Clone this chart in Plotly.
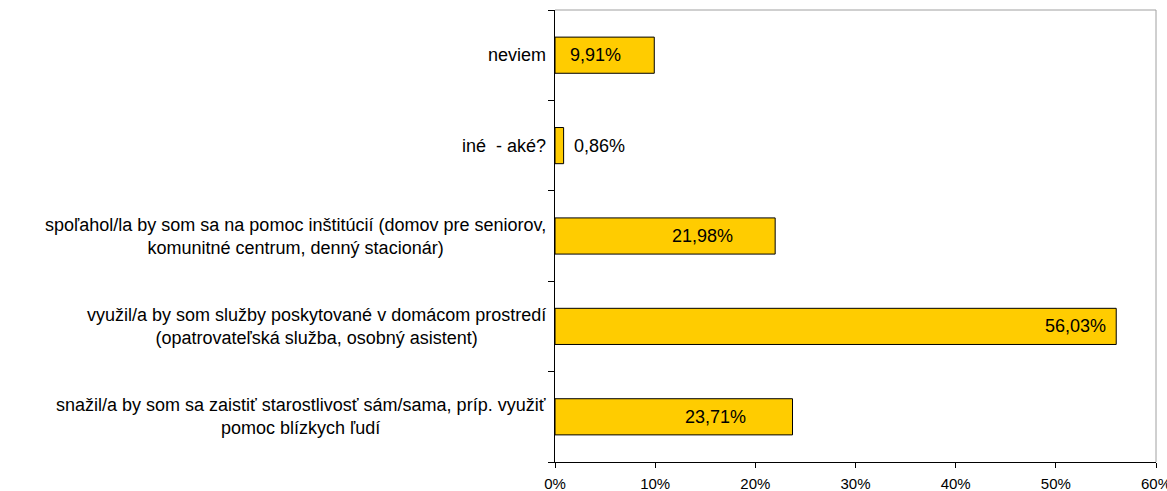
import plotly.graph_objects as go

categories = [
    "snažil/a by som sa zaistiť starostlivosť sám/sama, príp. využiť<br>pomoc blízkych ľudí",
    "využil/a by som služby poskytované v domácom prostredí<br>(opatrovateľská služba, osobný asistent)",
    "spoľahol/la by som sa na pomoc inštitúcií (domov pre seniorov,<br>komunitné centrum, denný stacionár)",
    "iné  - aké?",
    "neviem",
]
values = [23.71, 56.03, 21.98, 0.86, 9.91]
value_labels = ["23,71%", "56,03%", "21,98%", "0,86%", "9,91%"]
x_ticks = [0, 10, 20, 30, 40, 50, 60]
x_tick_labels = ["0%", "10%", "20%", "30%", "40%", "50%", "60%"]

# label placement (style): x position and anchor of each value label
label_x = [16.0, 55.2, 14.7, 1.65, 4.05]
label_anchor = ["center", "right", "center", "left", "center"]

FONT = "Liberation Sans, Arial, sans-serif"

fig = go.Figure()
fig.add_trace(go.Bar(
    y=list(range(len(categories))),
    x=values,
    orientation="h",
    width=0.4,
    marker=dict(color="#FFCC00", line=dict(color="#000000", width=1)),
    hoverinfo="skip",
))

annotations = []
for i, cat in enumerate(categories):
    annotations.append(dict(
        xref="paper", yref="y", x=-0.012, y=i, text=cat, showarrow=False,
        xanchor="right", yanchor="middle", align="center",
        font=dict(family=FONT, size=18, color="#000000"),
    ))
for i, (lx, la, lt) in enumerate(zip(label_x, label_anchor, value_labels)):
    annotations.append(dict(
        xref="x", yref="y", x=lx, y=i, text=lt, showarrow=False,
        xanchor=la, yanchor="middle",
        font=dict(family=FONT, size=18, color="#000000"),
    ))

# light grey frame on top / right of plot area
shapes = [
    dict(type="line", xref="paper", yref="paper", x0=0, x1=1, y0=1, y1=1,
         line=dict(color="#A0A0A0", width=1)),
    dict(type="line", xref="paper", yref="paper", x0=1, x1=1, y0=0, y1=1,
         line=dict(color="#A0A0A0", width=1)),
]

fig.update_layout(
    width=1167, height=491,
    margin=dict(l=555, r=11, t=10, b=29, autoexpand=False),
    paper_bgcolor="white", plot_bgcolor="white",
    showlegend=False,
    annotations=annotations,
    shapes=shapes,
    font=dict(family=FONT, size=15, color="#000000"),
    xaxis=dict(
        range=[0, 60], tickvals=x_ticks, ticktext=x_tick_labels,
        automargin=False,
        showgrid=False, zeroline=False, showline=True, linecolor="#000000", linewidth=1,
        ticks="outside", ticklen=5, tickcolor="#000000",
        ticklabeloverflow="allow", ticklabelstandoff=3,
        tickfont=dict(family=FONT, size=15, color="#000000"),
    ),
    yaxis=dict(
        range=[-0.5, 4.5], tickvals=[-0.5, 0.5, 1.5, 2.5, 3.5, 4.5],
        automargin=False,
        showticklabels=False,
        showgrid=False, zeroline=False, showline=True, linecolor="#000000", linewidth=1,
        ticks="outside", ticklen=6, tickcolor="#000000",
    ),
)

fig.write_html(
    "out.html",
    config={"displayModeBar": False},
    post_script="document.body.style.margin='0';document.body.style.overflow='hidden';",
)
